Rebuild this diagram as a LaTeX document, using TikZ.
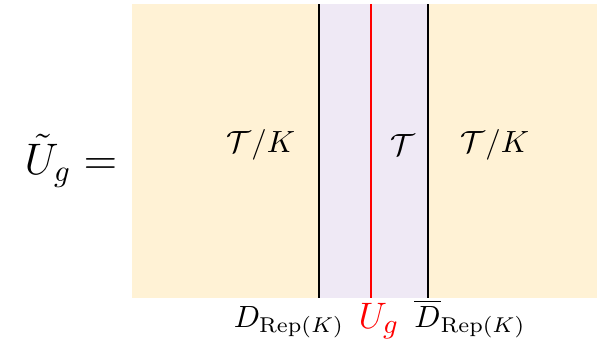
\documentclass[tikz,border=0pt]{standalone}
\usepackage{amsmath}
\usepackage{amssymb}
\usetikzlibrary{positioning, calc}

\definecolor{quotientbg}{RGB}{255,242,213}
\definecolor{bulkbg}{RGB}{239,233,245}

\begin{document}
\begin{tikzpicture}[
    x=0.326pt, y=-0.326pt,
    region/.style={inner sep=0pt, font=\normalsize},
    wall/.style={draw=black, line width=0.65pt},
    symline/.style={draw=red, line width=0.5pt},
    walllabel/.style={anchor=base, inner sep=0pt},
  ]
  \useasboundingbox (0,0) rectangle (597,342);

  % background regions
  \fill[quotientbg] (132,4) rectangle (597,298);
  \fill[bulkbg] (319,4) rectangle (428,298);

  % walls
  \coordinate (dtop)  at (319,4);   \coordinate (dbot)  at (319,298);
  \coordinate (utop)  at (371,4);   \coordinate (ubot)  at (371,298);
  \coordinate (dbtop) at (428,4);   \coordinate (dbbot) at (428,298);
  \draw[wall] (dtop) -- (dbot);
  \draw[symline] (utop) -- (ubot);
  \draw[wall] (dbtop) -- (dbbot);

  % region labels
  \node[region] (leftq)  at (261,145) {$\mathcal{T}/K$};
  \node[region] (middle) at (403,145) {$\mathcal{T}$};
  \node[region] (rightq) at (495,145) {$\mathcal{T}/K$};

  \node[region, font=\Large] (lhs) at (71,161) {$\tilde{U}_g =$};

  % wall labels
  \node[walllabel] (dlab)  at (289,327) {$D_{\mathrm{Rep}(K)}$};
  \node[walllabel, text=red, font=\fontsize{13}{15}\selectfont] (ulab) at (379,328) {$U_g$};
  \node[walllabel] (dblab) at (470,327) {$\overline{D}_{\mathrm{Rep}(K)}$};
\end{tikzpicture}
\end{document}
